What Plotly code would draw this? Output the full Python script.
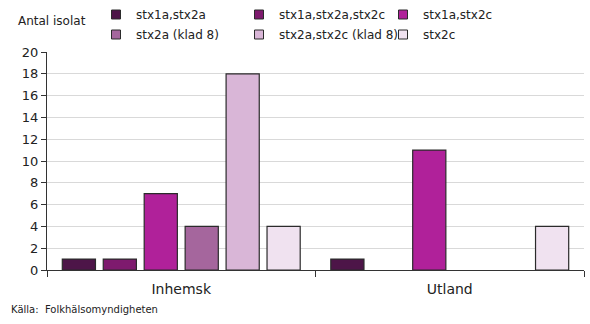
import plotly.graph_objects as go

categories = ["Inhemsk", "Utland"]
series_names = [
    "stx1a,stx2a",
    "stx1a,stx2a,stx2c",
    "stx1a,stx2c",
    "stx2a (klad 8)",
    "stx2a,stx2c (klad 8)",
    "stx2c",
]
series_values = [
    [1, 1],
    [1, 0],
    [7, 11],
    [4, 0],
    [18, 0],
    [4, 4],
]
series_colors = ["#4D1548", "#7E1A6E", "#B0219A", "#A5669D", "#D9B6D7", "#F0E2F0"]
y_ticks = list(range(0, 21, 2))

FONT = "DejaVu Sans"
W, H = 590, 324
ML, MR, MT, MB = 47, 6, 52, 54
plot_w = W - ML - MR
plot_h = H - MT - MB


def px_x(p):
    return (p - ML) / plot_w


def px_y(p):
    return (H - MB - p) / plot_h


# legend laid out as three columns of two entries each
legend_ids = ["legend", "legend2", "legend3"]
legend_cols = [i % 3 for i in range(len(series_names))]
legend_text_x = [136, 279, 423]

fig = go.Figure()
for name, vals, col in zip(series_names, series_values, series_colors):
    fig.add_trace(go.Bar(
        name=name, x=categories, y=vals,
        marker=dict(color=col,
                    line=dict(color="#2B2B2B",
                              width=[1.2 if v else 0 for v in vals])),
        showlegend=False,
    ))

# small square swatches for the legend entries
for name, col, lc in zip(series_names, series_colors, legend_cols):
    fig.add_trace(go.Scatter(
        name=name, x=[None], y=[None], mode="markers",
        marker=dict(symbol="square", size=9, color=col,
                    line=dict(color="#2B2B2B", width=1)),
        legend=legend_ids[lc], legendgroup=name, hoverinfo="skip",
    ))

legend_common = dict(
    orientation="v", xref="paper", xanchor="left",
    yref="container", yanchor="top", y=1.008,
    font=dict(family=FONT, size=12, color="#222222"),
    itemwidth=30, tracegroupgap=1, bgcolor="rgba(0,0,0,0)",
    itemclick=False, itemdoubleclick=False,
)
legend_layout = {}
for lid, tx in zip(legend_ids, legend_text_x):
    legend_layout[lid] = dict(legend_common, x=px_x(tx - 40))

fig.update_layout(
    width=W, height=H,
    margin=dict(l=ML, r=MR, t=MT, b=MB, autoexpand=False),
    paper_bgcolor="white", plot_bgcolor="white",
    barmode="group", bargap=0.085, bargroupgap=0.19,
    font=dict(family=FONT, size=12, color="#222222"),
    showlegend=True,
    xaxis=dict(
        showline=True, linecolor="#333333", linewidth=1,
        tickson="boundaries", ticks="outside", ticklen=6, tickcolor="#333333",
        tickfont=dict(family=FONT, size=14, color="#222222"),
        ticklabelstandoff=6,
        showgrid=False,
    ),
    yaxis=dict(
        range=[0, 20], tickvals=y_ticks,
        showline=True, linecolor="#333333", linewidth=1,
        ticks="outside", ticklen=5, tickcolor="#333333",
        tickfont=dict(family=FONT, size=13, color="#222222"),
        showgrid=True, gridcolor="#D9D9D9", gridwidth=1,
        zeroline=False,
    ),
    annotations=[
        dict(text="Antal isolat", x=px_x(16), y=px_y(21), xref="paper", yref="paper",
             xanchor="left", yanchor="middle", showarrow=False,
             font=dict(family=FONT, size=12, color="#222222")),
        dict(text="Källa:  Folkhälsomyndigheten", x=px_x(9), y=px_y(309),
             xref="paper", yref="paper", xanchor="left", yanchor="middle",
             showarrow=False, font=dict(family=FONT, size=10, color="#222222")),
    ],
    **legend_layout,
)

fig.write_html("out.html")
